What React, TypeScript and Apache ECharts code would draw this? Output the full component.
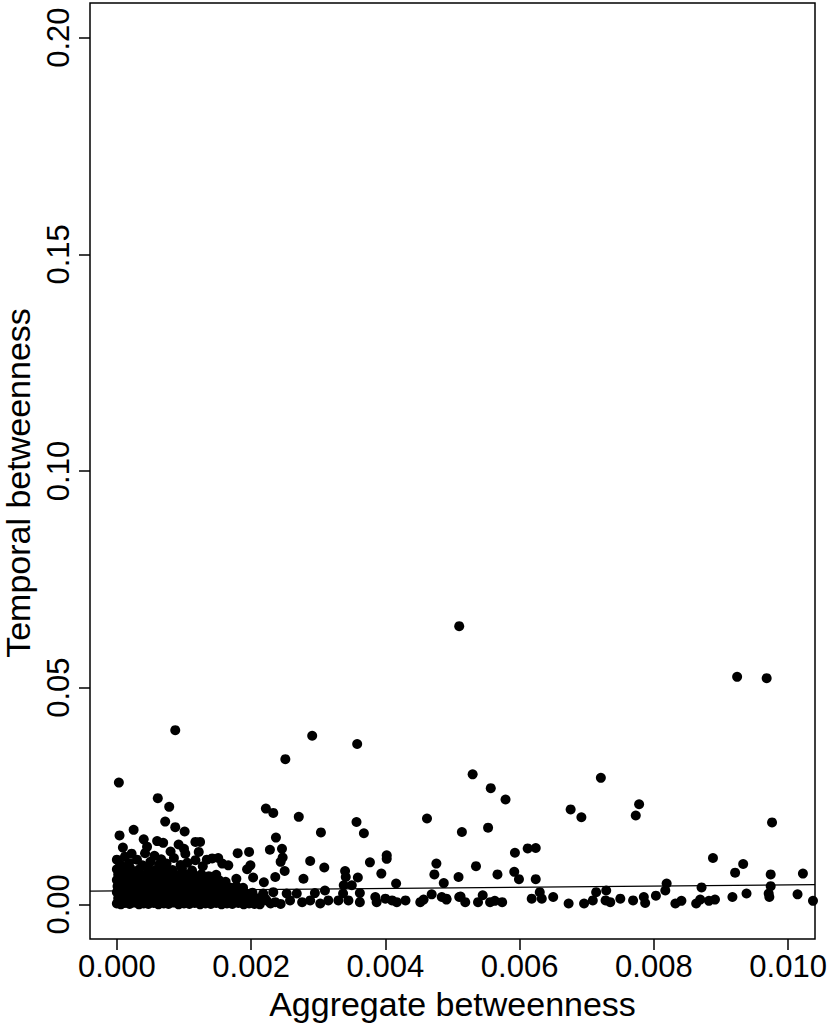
import React, { useEffect, useRef } from "react";
import * as echarts from "echarts";

// Axis ticks
const xTicks = [0, 0.002, 0.004, 0.006, 0.008, 0.01];
const yTicks = [0, 0.05, 0.1, 0.15, 0.2];

// Regression line (intercept, slope)
const fitIntercept = 0.00312;
const fitSlope = 0.137;

// Dense cluster near the origin
const clusterCore: [number, number][] = [
  [0.00000,0.0002],[0.00006,0.0000],[0.00012,0.0003],[0.00019,0.0001],[0.00026,0.0004],[0.00033,0.0000],[0.00040,0.0002],[0.00047,0.0001],[0.00055,0.0003],[0.00062,0.0000],[0.00070,0.0002],[0.00077,0.0001],[0.00085,0.0004],[0.00092,0.0000],[0.00100,0.0002],[0.00108,0.0001],[0.00116,0.0003],[0.00124,0.0000],[0.00132,0.0002],[0.00140,0.0001],[0.00148,0.0003],[0.00156,0.0000],[0.00164,0.0002],[0.00172,0.0001],[0.00181,0.0003],[0.00189,0.0000],[0.00197,0.0002],[0.00205,0.0001],[0.00213,0.0000],[0.00229,0.0002],[0.00244,0.0001],
  [0.00002,0.0014],[0.00009,0.0012],[0.00016,0.0016],[0.00023,0.0013],[0.00030,0.0015],[0.00037,0.0012],[0.00045,0.0016],[0.00052,0.0013],[0.00059,0.0015],[0.00067,0.0012],[0.00074,0.0014],[0.00082,0.0016],[0.00089,0.0012],[0.00097,0.0015],[0.00104,0.0013],[0.00112,0.0016],[0.00120,0.0012],[0.00128,0.0014],[0.00136,0.0015],[0.00144,0.0012],[0.00152,0.0016],[0.00160,0.0013],[0.00169,0.0015],[0.00177,0.0012],[0.00186,0.0014],[0.00194,0.0016],[0.00203,0.0012],[0.00211,0.0014],[0.00220,0.0015],
  [0.00000,0.0028],[0.00007,0.0026],[0.00014,0.0030],[0.00021,0.0027],[0.00029,0.0029],[0.00036,0.0026],[0.00043,0.0030],[0.00050,0.0027],[0.00058,0.0029],[0.00065,0.0026],[0.00072,0.0028],[0.00080,0.0030],[0.00087,0.0026],[0.00095,0.0029],[0.00102,0.0027],[0.00110,0.0030],[0.00118,0.0026],[0.00126,0.0028],[0.00134,0.0029],[0.00142,0.0026],[0.00150,0.0030],[0.00158,0.0027],[0.00166,0.0029],[0.00175,0.0026],[0.00184,0.0028],[0.00193,0.0025],[0.00202,0.0027],
  [0.00001,0.0042],[0.00008,0.0040],[0.00015,0.0044],[0.00022,0.0041],[0.00030,0.0043],[0.00037,0.0040],[0.00044,0.0044],[0.00051,0.0041],[0.00059,0.0043],[0.00066,0.0040],[0.00073,0.0042],[0.00081,0.0044],[0.00088,0.0040],[0.00096,0.0043],[0.00103,0.0041],[0.00111,0.0044],[0.00119,0.0040],[0.00127,0.0042],[0.00135,0.0043],[0.00143,0.0040],[0.00151,0.0044],[0.00159,0.0041],[0.00168,0.0039],[0.00178,0.0042],[0.00188,0.0038],
  [0.00000,0.0056],[0.00007,0.0054],[0.00014,0.0058],[0.00021,0.0055],[0.00028,0.0057],[0.00036,0.0054],[0.00043,0.0058],[0.00050,0.0055],[0.00058,0.0057],[0.00065,0.0054],[0.00072,0.0056],[0.00080,0.0058],[0.00087,0.0054],[0.00095,0.0057],[0.00102,0.0055],[0.00110,0.0058],[0.00118,0.0054],[0.00126,0.0056],[0.00134,0.0055],[0.00143,0.0053],[0.00152,0.0056],[0.00162,0.0052],
  [0.00002,0.0069],[0.00009,0.0067],[0.00016,0.0071],[0.00024,0.0068],[0.00031,0.0070],[0.00039,0.0067],[0.00046,0.0071],[0.00054,0.0068],[0.00061,0.0070],[0.00069,0.0067],[0.00077,0.0069],[0.00084,0.0071],[0.00092,0.0067],[0.00100,0.0070],[0.00108,0.0068],[0.00117,0.0066],[0.00126,0.0069],[0.00137,0.0065],[0.00148,0.0068],
  [0.00000,0.0081],[0.00010,0.0079],[0.00020,0.0083],[0.00033,0.0080],[0.00047,0.0082],[0.00058,0.0079],[0.00070,0.0081],[0.00083,0.0079],[0.00097,0.0082],[0.00112,0.0078],
];

// Points around the upper edge of the cluster
const clusterEdge: [number, number][] = [
  [0.00005,0.0092],[0.00018,0.0095],[0.00038,0.0090],[0.00050,0.0098],[0.00063,0.0092],[0.00095,0.0091],[0.00105,0.0096],[0.00128,0.0088],[0.00012,0.0110],[0.00066,0.0104],[0.00045,0.0133],[0.00080,0.0122],[0.00100,0.0128],
  [0.00003,0.0281],[0.00061,0.0245],[0.00078,0.0225],[0.00087,0.0402],[0.00072,0.0191],[0.00087,0.0178],[0.00101,0.0168],[0.00025,0.0172],[0.00004,0.0159],[0.00040,0.0150],[0.00060,0.0146],[0.00069,0.0142],[0.00117,0.0144],[0.00009,0.0131],[0.00092,0.0138],[0.00022,0.0117],[0.00042,0.0118],[0.00102,0.0117],[0.00122,0.0121],[0.00000,0.0103],[0.00030,0.0103],[0.00117,0.0102],[0.00142,0.0106],[0.00074,0.0094],[0.00157,0.0094],[0.00056,0.0112],[0.00085,0.0107],[0.00134,0.0103],[0.00151,0.0107],[0.00180,0.0118],[0.00197,0.0121],[0.00166,0.0090],[0.00199,0.0090],[0.00194,0.0081],[0.00203,0.0062],[0.00178,0.0059],[0.00219,0.0051],[0.00124,0.0144],
];

// Middle range of aggregate betweenness
const midPoints: [number, number][] = [
  [0.00222,0.0221],[0.00233,0.0211],[0.00271,0.0202],[0.00251,0.0335],[0.00291,0.0389],[0.00358,0.0370],[0.00357,0.0190],[0.00304,0.0166],[0.00368,0.0164],[0.00462,0.0198],[0.00237,0.0154],[0.00228,0.0126],[0.00246,0.0128],[0.00247,0.0108],[0.00244,0.0098],[0.00250,0.0077],[0.00288,0.0100],[0.00309,0.0085],[0.00340,0.0077],[0.00377,0.0097],[0.00402,0.0113],[0.00402,0.0105],[0.00394,0.0071],[0.00476,0.0094],[0.00473,0.0069],[0.00487,0.0049],[0.00509,0.0063],[0.00416,0.0048],[0.00341,0.0063],[0.00338,0.0044],[0.00359,0.0062],[0.00350,0.0044],[0.00278,0.0059],[0.00236,0.0063],
  [0.00218,0.0025],[0.00233,0.0028],[0.00223,0.0009],[0.00236,0.0005],[0.00253,0.0025],[0.00258,0.0009],[0.00268,0.0025],[0.00276,0.0005],[0.00288,0.0009],[0.00295,0.0026],[0.00303,0.0002],[0.00310,0.0032],[0.00315,0.0009],[0.00330,0.0009],[0.00337,0.0025],[0.00345,0.0009],[0.00362,0.0005],[0.00362,0.0026],[0.00385,0.0017],[0.00387,0.0005],[0.00400,0.0013],[0.00410,0.0009],[0.00417,0.0005],[0.00430,0.0009],[0.00452,0.0005],[0.00457,0.0011],[0.00469,0.0023],[0.00484,0.0017],[0.00491,0.0013],[0.00510,0.0017],
];

// Upper range of aggregate betweenness
const rightPoints: [number, number][] = [
  [0.00510,0.0642],[0.00530,0.0300],[0.00557,0.0268],[0.00579,0.0242],[0.00721,0.0292],[0.00676,0.0219],[0.00692,0.0201],[0.00778,0.0231],[0.00773,0.0205],[0.00514,0.0167],[0.00553,0.0177],[0.00593,0.0119],[0.00612,0.0129],[0.00624,0.0130],[0.00535,0.0088],[0.00567,0.0069],[0.00592,0.0075],[0.00599,0.0058],[0.00624,0.0058],
  [0.00491,0.0011],[0.00512,0.0018],[0.00519,0.0005],[0.00538,0.0005],[0.00545,0.0021],[0.00556,0.0005],[0.00563,0.0008],[0.00574,0.0005],[0.00618,0.0013],[0.00630,0.0028],[0.00633,0.0013],[0.00650,0.0017],[0.00673,0.0002],[0.00696,0.0002],[0.00709,0.0009],[0.00714,0.0028],[0.00729,0.0032],[0.00728,0.0009],[0.00735,0.0005],[0.00750,0.0013],[0.00769,0.0009],[0.00785,0.0017],[0.00787,0.0003],[0.00803,0.0020],[0.00819,0.0048],[0.00817,0.0032],[0.00832,0.0002],[0.00841,0.0008],[0.00863,0.0002],[0.00869,0.0011],[0.00871,0.0039],[0.00882,0.0008],[0.00888,0.0107],[0.00891,0.0011],[0.00917,0.0017],[0.00921,0.0073],[0.00924,0.0525],[0.00933,0.0093],[0.00938,0.0025],[0.00968,0.0522],[0.00971,0.0025],[0.00972,0.0017],[0.00974,0.0042],[0.00974,0.0069],[0.00976,0.0189],[0.01014,0.0023],[0.01022,0.0071],[0.01037,0.0008],
];

const xMin = -0.0004;
const xMax = 0.0104;
const yMin = -0.008;
const yMax = 0.208;

const FONT = "'Liberation Sans', Arial, Helvetica, sans-serif";

export default function App() {
  const ref = useRef<HTMLDivElement>(null);
  useEffect(() => {
    document.body.style.margin = "0";
    if (!ref.current) return;
    const chart = echarts.init(ref.current, null, { renderer: "svg" });
    const allPoints = [...clusterCore, ...clusterEdge, ...midPoints, ...rightPoints];
    chart.setOption({
      animation: false,
      backgroundColor: "#ffffff",
      grid: {
        left: 90,
        top: 3,
        right: 15,
        bottom: 93,
        containLabel: false,
        outerBoundsMode: "none",
        show: true,
        borderColor: "#000",
        borderWidth: 1.5,
        backgroundColor: "transparent",
      },
      xAxis: {
        type: "value",
        min: xMin,
        max: xMax,
        name: "Aggregate betweenness",
        nameLocation: "middle",
        nameGap: 46,
        nameTextStyle: { fontFamily: FONT, fontSize: 34, color: "#000" },
        axisLine: { show: false, onZero: false },
        splitLine: { show: false },
        axisTick: {
          show: true,
          length: 11,
          inside: false,
          customValues: xTicks,
          lineStyle: { color: "#000", width: 1.5 },
        },
        axisLabel: {
          customValues: xTicks,
          margin: 12,
          fontFamily: FONT,
          fontSize: 31,
          color: "#000",
          formatter: (v: number) => v.toFixed(3),
        },
      },
      yAxis: {
        type: "value",
        min: yMin,
        max: yMax,
        name: "Temporal betweenness",
        nameLocation: "middle",
        nameGap: 54,
        nameTextStyle: {
          fontFamily: FONT,
          fontSize: 34,
          color: "#000",
          padding: [0, 24, 0, 0],
        },
        axisLine: { show: false, onZero: false },
        splitLine: { show: false },
        axisTick: {
          show: true,
          length: 11,
          inside: false,
          customValues: yTicks,
          lineStyle: { color: "#000", width: 1.5 },
        },
        axisLabel: {
          customValues: yTicks,
          rotate: 90,
          margin: 16,
          fontFamily: FONT,
          fontSize: 31,
          color: "#000",
          formatter: (v: number) => v.toFixed(2),
        },
      },
      series: [
        {
          type: "scatter",
          data: allPoints,
          symbol: "circle",
          symbolSize: 10,
          itemStyle: { color: "#000", opacity: 1 },
          silent: true,
        },
        {
          type: "line",
          data: [
            [xMin, fitIntercept + fitSlope * xMin],
            [xMax, fitIntercept + fitSlope * xMax],
          ],
          symbol: "none",
          lineStyle: { color: "#000", width: 1.3 },
          silent: true,
        },
      ],
    });
    return () => chart.dispose();
  }, []);
  return (
    <div
      ref={ref}
      style={{ position: "absolute", left: 0, top: 0, width: 830, height: 1032 }}
    />
  );
}
